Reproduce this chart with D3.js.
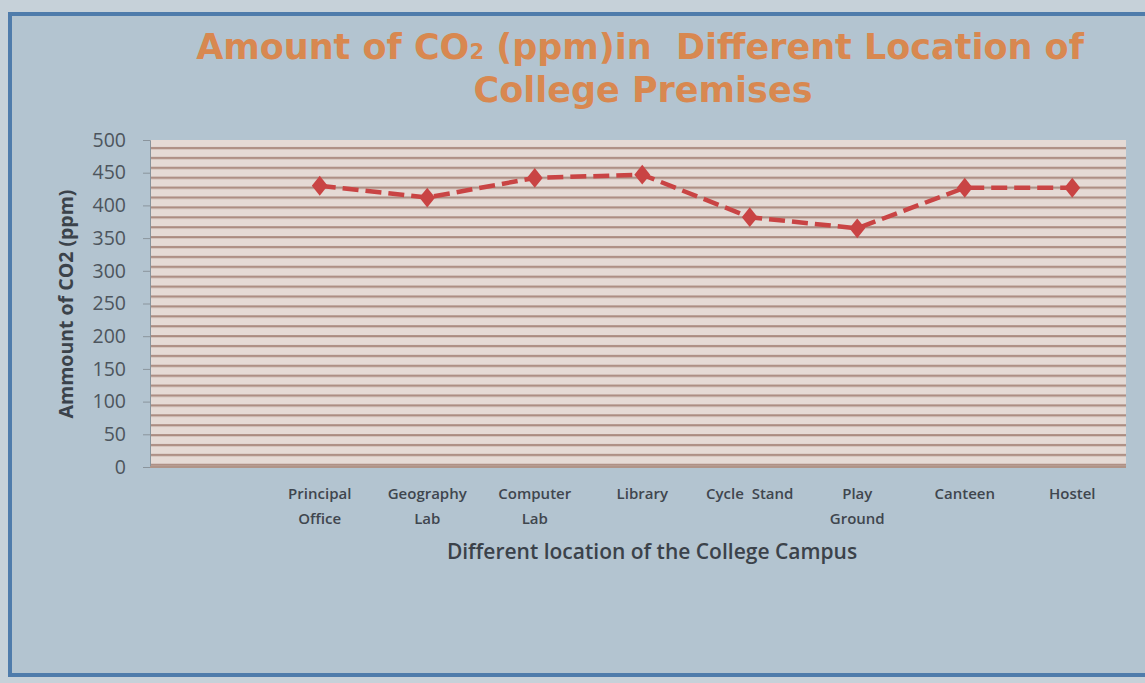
<!DOCTYPE html>
<html>
<head>
<meta charset="utf-8">
<script src="https://cdn.jsdelivr.net/npm/d3@7"></script>
<style>
  html, body { margin: 0; padding: 0; background: #c6d1d9; }
  svg { display: block; }
  text { white-space: pre; }
</style>
</head>
<body>
<svg width="1145" height="683"></svg>
<script>
"use strict";
const locations = ["Principal Office", "Geography Lab", "Computer Lab", "Library",
    "Cycle  Stand", "Play Ground", "Canteen", "Hostel"];
const labelLines = [["Principal", "Office"], ["Geography", "Lab"], ["Computer", "Lab"], ["Library"],
    ["Cycle  Stand"], ["Play", "Ground"], ["Canteen"], ["Hostel"]];
const co2 = [430, 412, 442, 447, 382, 365, 427, 427];
const yTicks = [0, 50, 100, 150, 200, 250, 300, 350, 400, 450, 500];

const svg = d3.select("svg");
const plot = { left: 150, right: 1126, top: 140, bottom: 467 };

// poster background + frame
svg.append("rect")
    .attr("x", 10).attr("y", 14)
    .attr("width", 1150).attr("height", 661)
    .attr("fill", "#b3c4d0")
    .attr("stroke", "#4f7cab")
    .attr("stroke-width", 4);

// striped plot area fill
const defs = svg.append("defs");
const pat = defs.append("pattern")
    .attr("id", "stripes")
    .attr("patternUnits", "userSpaceOnUse")
    .attr("width", 10).attr("height", 9.9)
    .attr("y", plot.top);
pat.append("rect").attr("width", 10).attr("height", 9.9).attr("fill", "#e5dad5");
pat.append("rect").attr("y", 7).attr("width", 10).attr("height", 2.2).attr("fill", "#ab8c81");

svg.append("rect")
    .attr("x", plot.left).attr("y", plot.top)
    .attr("width", plot.right - plot.left)
    .attr("height", plot.bottom - plot.top)
    .attr("fill", "url(#stripes)");

const x = d3.scaleBand()
    .domain(locations)
    .range([266, plot.right]);
const y = d3.scaleLinear()
    .domain([0, 500])
    .range([plot.bottom, plot.top]);

// y axis
const yAxis = svg.append("g")
    .attr("transform", `translate(${plot.left},0)`)
    .call(d3.axisLeft(y).tickValues(yTicks).tickSize(7).tickPadding(17));
yAxis.select(".domain").attr("stroke", "#8a949c");
yAxis.selectAll(".tick line").attr("stroke", "#8a949c");
yAxis.selectAll("text")
    .attr("fill", "#4d555d")
    .style("font", "19.5px 'Open Sans', sans-serif");

// bottom edge of the plot area
svg.append("line")
    .attr("x1", plot.left).attr("x2", plot.right)
    .attr("y1", y(0)).attr("y2", y(0))
    .attr("stroke", "#b09488").attr("stroke-width", 2);

// x axis labels
const xl = svg.append("g")
    .selectAll("text")
    .data(locations)
    .join("text")
    .attr("x", d => x(d) + x.bandwidth() / 2)
    .attr("y", 499)
    .attr("text-anchor", "middle")
    .attr("fill", "#3f464e")
    .style("font", "600 15px 'Open Sans', sans-serif");
xl.selectAll("tspan")
    .data((d, i) => labelLines[i])
    .join("tspan")
    .attr("x", function () { return d3.select(this.parentNode).attr("x"); })
    .attr("dy", (d, i) => i === 0 ? 0 : 25)
    .text(d => d);

// axis titles
svg.append("text")
    .attr("x", 652).attr("y", 559)
    .attr("text-anchor", "middle")
    .attr("fill", "#3b424a")
    .style("font", "600 21px 'Open Sans', sans-serif")
    .text("Different location of the College Campus");

svg.append("text")
    .attr("transform", "translate(73,304) rotate(-90)")
    .attr("text-anchor", "middle")
    .attr("fill", "#3b424a")
    .style("font", "bold 19.5px 'Open Sans', sans-serif")
    .text("Ammount of CO2 (ppm)");

// title
const title = svg.append("text")
    .attr("text-anchor", "middle")
    .attr("fill", "#d88850")
    .style("font", "bold 35px 'DejaVu Sans', sans-serif");
const t1 = title.append("tspan").attr("x", 640).attr("y", 59);
t1.append("tspan").text("Amount of CO");
t1.append("tspan").style("font-size", "21px").text("2");
t1.append("tspan").text(" (ppm)in  Different Location of");
title.append("tspan").attr("x", 643).attr("y", 102).text("College Premises");

// line + markers
const line = d3.line()
    .x((d, i) => x(locations[i]) + x.bandwidth() / 2)
    .y(d => y(d));
svg.append("path")
    .datum(co2)
    .attr("d", line)
    .attr("fill", "none")
    .attr("stroke", "#c94444")
    .attr("stroke-width", 4.5)
    .attr("stroke-dasharray", "16,7");

svg.append("g")
    .selectAll("path")
    .data(co2)
    .join("path")
    .attr("transform", (d, i) => `translate(${x(locations[i]) + x.bandwidth() / 2},${y(d)}) scale(1.25,0.9)`)
    .attr("d", d3.symbol(d3.symbolDiamond, 140))
    .attr("fill", "#c94444");
</script>
</body>
</html>
